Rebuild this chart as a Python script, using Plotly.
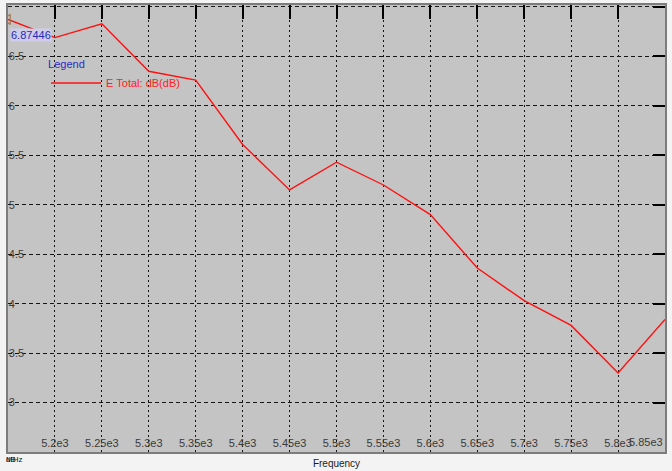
import plotly.graph_objects as go

# Frequency sweep (MHz) and total E-field gain (dB)
freq = [5150, 5200, 5250, 5300, 5350, 5400, 5450, 5500, 5550, 5600,
        5650, 5700, 5750, 5800, 5850]
e_total_db = [6.87446, 6.69, 6.83, 6.35, 6.26, 5.61, 5.15, 5.43, 5.20, 4.90,
              4.36, 4.03, 3.78, 3.30, 3.84]

x_tickvals = [5200, 5250, 5300, 5350, 5400, 5450, 5500, 5550, 5600, 5650,
              5700, 5750, 5800]
x_ticktext = ["5.2e3", "5.25e3", "5.3e3", "5.35e3", "5.4e3", "5.45e3", "5.5e3",
              "5.55e3", "5.6e3", "5.65e3", "5.7e3", "5.75e3", "5.8e3"]
y_tickvals = [3, 3.5, 4, 4.5, 5, 5.5, 6, 6.5, 7]
y_ticktext = ["3", "3.5", "4", "4.5", "5", "5.5", "6", "6.5", "7"]

x_range = [5150, 5850]
y_range = [2.5, 7.02]

FONT = "Liberation Sans"
LABEL_GREY = "#3a3a3a"

fig = go.Figure()

# main curve
fig.add_trace(go.Scatter(
    x=freq, y=e_total_db, mode="lines", name="E Total: dB(dB)",
    line=dict(color="#ff1010", width=1.4),
    hoverinfo="skip",
))

# marker at the first sample
fig.add_trace(go.Scatter(
    x=[freq[0]], y=[e_total_db[0]], mode="markers", showlegend=False,
    marker=dict(symbol="triangle-left-open", size=9, color="#a07850",
                line=dict(width=1.2, color="#a07850")),
    hoverinfo="skip",
))

# carrier trace for the top/right tick axes
fig.add_trace(go.Scatter(
    x=freq, y=e_total_db, xaxis="x2", yaxis="y2", mode="lines",
    line=dict(width=0, color="rgba(0,0,0,0)"), showlegend=False,
    hoverinfo="skip",
))

fig.update_layout(
    width=672, height=471,
    margin=dict(l=8, r=7, t=5, b=19),
    paper_bgcolor="#f3f3f3",
    plot_bgcolor="#c4c4c4",
    font=dict(family=FONT, size=11, color=LABEL_GREY),
    showlegend=True,
    legend=dict(
        x=0.058, y=0.89, xanchor="left", yanchor="top",
        bgcolor="rgba(0,0,0,0)", borderwidth=0,
        title=dict(text="Legend", font=dict(color="#2a2acc", size=11, family=FONT)),
        font=dict(color="#ff2020", size=11, family=FONT),
        itemwidth=50,
        tracegroupgap=0,
    ),
    xaxis=dict(
        range=x_range, tickmode="array", tickvals=x_tickvals, ticktext=x_ticktext,
        ticks="", ticklabelposition="inside", ticklabelstandoff=2,
        tickfont=dict(size=11, color=LABEL_GREY, family=FONT),
        showgrid=True, gridcolor="#151515", gridwidth=1, griddash="2px,3px",
        showline=True, linecolor="#7c7c7c", linewidth=2, mirror=True,
        zeroline=False, automargin=False,
        title=dict(text="Frequency", standoff=12,
                   font=dict(size=10, color="#1a1a1a", family=FONT)),
    ),
    yaxis=dict(
        range=y_range, tickmode="array", tickvals=y_tickvals, ticktext=y_ticktext,
        ticks="", ticklabelposition="inside", ticklabelstandoff=0,
        tickfont=dict(size=11, color=LABEL_GREY, family=FONT),
        showgrid=True, gridcolor="#151515", gridwidth=1, griddash="4px,3px",
        showline=True, linecolor="#7c7c7c", linewidth=2, mirror=True,
        zeroline=False, automargin=False,
    ),
    xaxis2=dict(
        overlaying="x", side="top", anchor="y2", range=x_range,
        tickmode="array", tickvals=x_tickvals + [5850],
        ticks="inside", ticklen=14, tickwidth=2, tickcolor="#000000",
        showticklabels=False, showgrid=False, showline=False, zeroline=False,
    ),
    yaxis2=dict(
        overlaying="y", side="right", anchor="x2", range=y_range,
        tickmode="array", tickvals=y_tickvals,
        ticks="inside", ticklen=12, tickwidth=2, tickcolor="#000000",
        showticklabels=False, showgrid=False, showline=False, zeroline=False,
    ),
    annotations=[
        # value readout of the marked sample
        dict(x=freq[0], y=e_total_db[0], xref="x", yref="y",
             text=f"{e_total_db[0]:.5f}", showarrow=False,
             xanchor="left", yanchor="top", xshift=2, yshift=-9,
             font=dict(color="#2a2ab8", size=11, family=FONT),
             bgcolor="#cdcdea", borderpad=0),
        # last x tick label, right-aligned at the frame edge
        dict(x=1, y=0, xref="paper", yref="paper", text="5.85e3",
             showarrow=False, xanchor="right", yanchor="bottom", yshift=2,
             font=dict(size=11, color=LABEL_GREY, family=FONT)),
        # axis units (drawn on top of each other at the corner)
        dict(x=0, y=0, xref="paper", yref="paper", text="MHz",
             showarrow=False, xanchor="left", yanchor="top", xshift=-4, yshift=-1,
             font=dict(size=8, color="#1a1a1a", family=FONT)),
        dict(x=0, y=0, xref="paper", yref="paper", text="dB",
             showarrow=False, xanchor="left", yanchor="top", xshift=-4, yshift=-1,
             font=dict(size=8, color="#1a1a1a", family=FONT)),
    ],
)

fig.write_html("out.html")
